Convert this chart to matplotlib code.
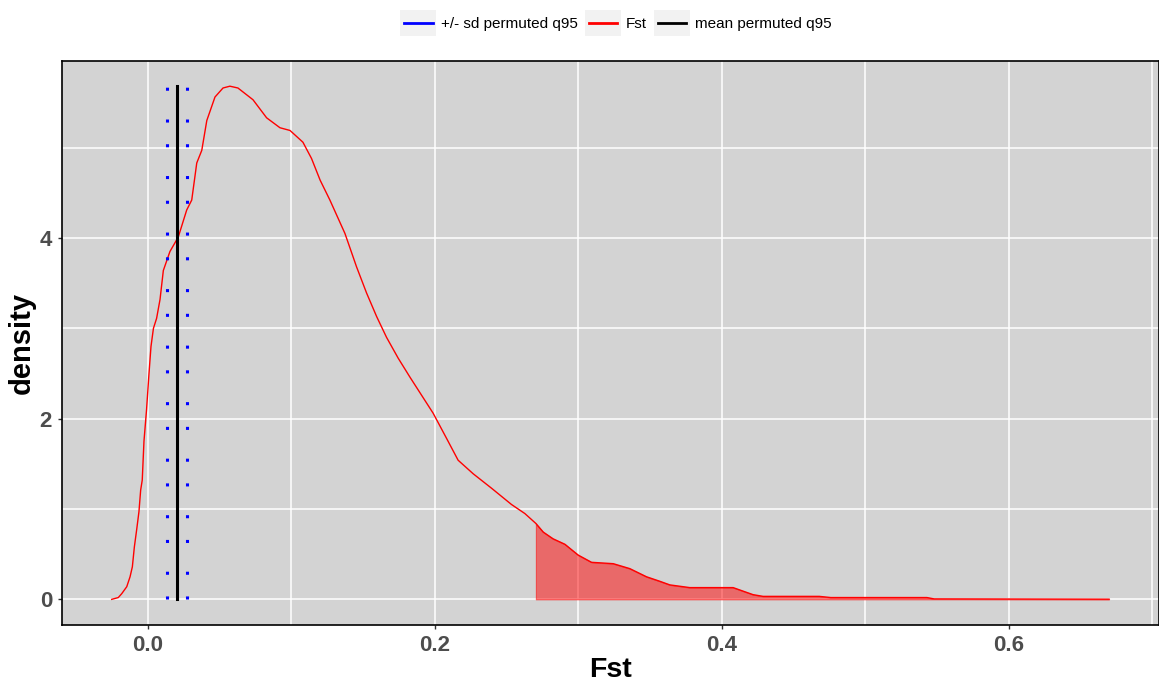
import numpy as np
import matplotlib.pyplot as plt
from matplotlib.patches import Rectangle
from matplotlib.lines import Line2D
from matplotlib.legend_handler import HandlerBase

plt.rcParams['font.family'] = ['Liberation Sans', 'DejaVu Sans']
plt.rcParams['lines.scale_dashes'] = False

# density curve of Fst
fst_x = [-0.0253, -0.0207, -0.0183, -0.0148, -0.0125, -0.0109, -0.0095, -0.0079,
         -0.0063, -0.0051, -0.0040, -0.0028, -0.0010, 0.0007, 0.0021, 0.0038,
         0.0060, 0.0084, 0.0107, 0.0153, 0.0211, 0.0270, 0.0305, 0.0340,
         0.0375, 0.0410, 0.0467, 0.0523, 0.0571, 0.0627, 0.0732, 0.0827,
         0.0920, 0.0990, 0.1080, 0.1140, 0.1200, 0.1268, 0.1373, 0.1454,
         0.1524, 0.1594, 0.1663, 0.1744, 0.1826, 0.1907, 0.1988, 0.2082,
         0.2162, 0.2267, 0.2395, 0.2534, 0.2627, 0.2704, 0.2755, 0.2824,
         0.2906, 0.2999, 0.3092, 0.3243, 0.3359, 0.3475, 0.3568, 0.3638,
         0.3777, 0.4079, 0.4218, 0.4288, 0.4680, 0.4760, 0.5430, 0.5480, 0.6700]
fst_dens = [0.0, 0.02, 0.063, 0.14, 0.25, 0.36, 0.58, 0.77,
            0.97, 1.21, 1.32, 1.75, 2.10, 2.50, 2.80, 3.00,
            3.11, 3.32, 3.64, 3.85, 4.01, 4.31, 4.42, 4.83,
            4.97, 5.30, 5.56, 5.66, 5.68, 5.66, 5.53, 5.33,
            5.22, 5.19, 5.06, 4.88, 4.64, 4.42, 4.05, 3.68,
            3.39, 3.13, 2.90, 2.67, 2.46, 2.26, 2.06, 1.78,
            1.54, 1.39, 1.23, 1.05, 0.95, 0.84, 0.745, 0.67,
            0.61, 0.49, 0.41, 0.395, 0.34, 0.25, 0.20, 0.16,
            0.13, 0.13, 0.052, 0.033, 0.033, 0.02, 0.02, 0.005, 0.002]

# observed q95 threshold (start of shaded tail)
fst_q95 = 0.2704
# permuted q95: mean and +/- sd
perm_mean = 0.0200
perm_sd_lo = 0.0130
perm_sd_hi = 0.0270

x = np.array(fst_x)
y = np.array(fst_dens)
ymax = y.max()

fig = plt.figure(figsize=(11.59, 6.91), dpi=100)
ax = fig.add_axes([0.0533, 0.0955, 0.9467, 0.8169])
ax.set_facecolor('#D3D3D3')

ax.set_xlim(-0.0601, 0.7048)
ax.set_ylim(-0.284, 5.964)
ax.set_xticks([0.0, 0.2, 0.4, 0.6])
ax.set_xticklabels(['0.0', '0.2', '0.4', '0.6'])
ax.set_yticks([0, 2, 4])
ax.set_xticks([0.1, 0.3, 0.5, 0.7], minor=True)
ax.set_yticks([1, 3, 5], minor=True)
ax.grid(True, which='both', color='white', lw=1.1)
ax.set_axisbelow(True)
ax.tick_params(which='minor', length=0)
ax.tick_params(which='major', length=3, width=1, color='#333333', pad=4,
               labelsize=16, labelcolor='#4D4D4D')
for lab in ax.get_xticklabels() + ax.get_yticklabels():
    lab.set_fontweight('bold')
for s in ax.spines.values():
    s.set_color('black')
    s.set_linewidth(1.2)

# density line + shaded tail
ax.plot(x, y, color='red', lw=1.0, zorder=3)
ax.fill_between(x, 0, y, where=x >= fst_q95, color='red', alpha=0.5, lw=0.8, zorder=2)

# permuted q95 lines
ax.plot([perm_mean, perm_mean], [0, ymax], color='black', lw=2.2, zorder=4)
for xv in [perm_sd_lo, perm_sd_hi]:
    ax.plot([xv, xv], [0, ymax], color='blue', lw=2.2, dashes=[2.2, 15.6, 2.2, 20.7],
            dash_capstyle='butt', zorder=4)

ax.set_xlabel('Fst', fontsize=20.5, fontweight='bold', labelpad=1)
ax.set_ylabel('density', fontsize=21, fontweight='bold', labelpad=3)


class KeyBox(HandlerBase):
    def create_artists(self, legend, orig_handle, xdescent, ydescent, width, height, fontsize, trans):
        box = Rectangle((-xdescent, -ydescent), width, height, facecolor='#F2F2F2',
                        edgecolor='none', transform=trans)
        seg = Line2D([-xdescent + 0.1 * width, -xdescent + 0.9 * width],
                     [height / 2 - ydescent] * 2, color=orig_handle.get_color(),
                     lw=2, transform=trans)
        return [box, seg]


handles = [Line2D([], [], color='blue'), Line2D([], [], color='red'), Line2D([], [], color='black')]
labels = ['+/- sd permuted q95', 'Fst', 'mean permuted q95']
fig.legend(handles, labels, loc='center', bbox_to_anchor=(0.5315, 0.967), ncol=3,
           frameon=False, fontsize=11, handlelength=2.35, handleheight=2.3,
           handletextpad=0.33, columnspacing=0.45, borderpad=0,
           handler_map={Line2D: KeyBox()})

fig.savefig('out.png', dpi=100)
